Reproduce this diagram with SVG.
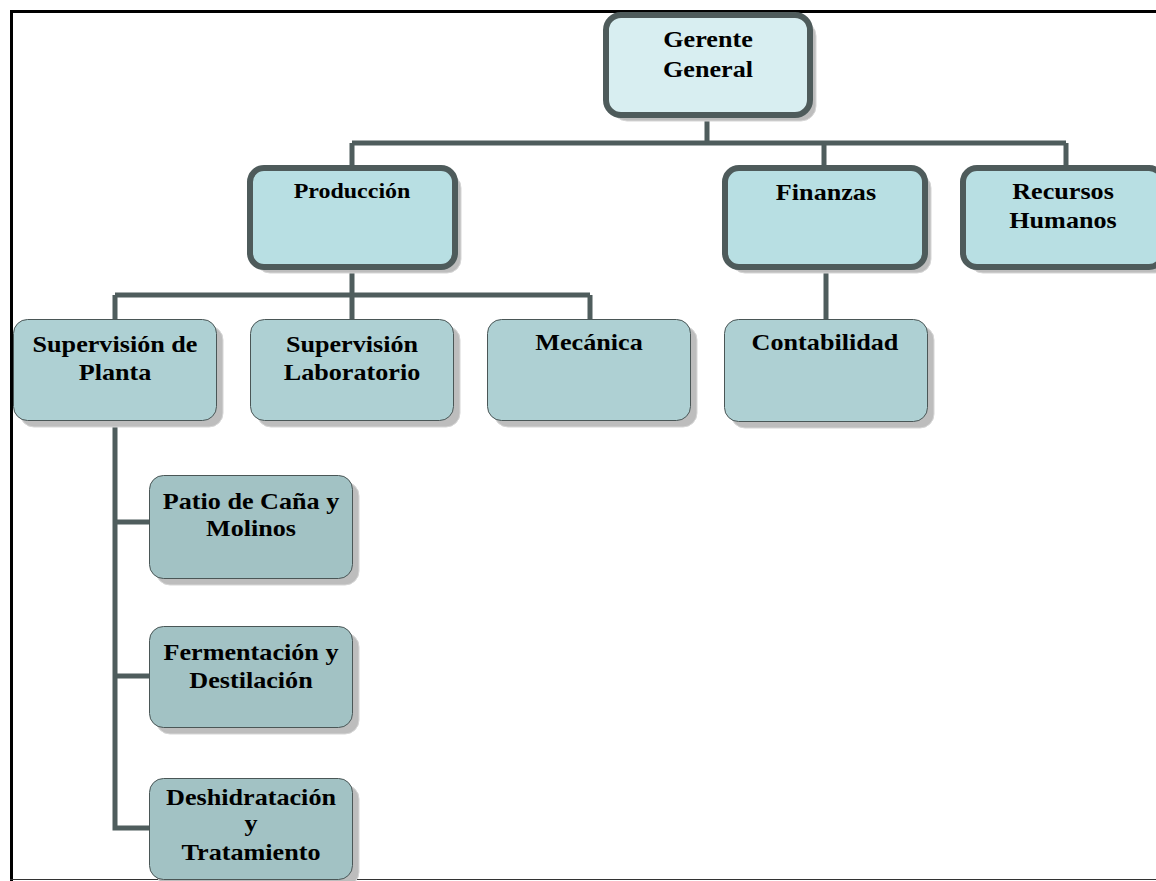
<svg xmlns="http://www.w3.org/2000/svg" width="1156" height="881" viewBox="0 0 1156 881">
<style>
.t{font-family:"Liberation Serif","Times New Roman",serif;font-weight:bold;font-size:24px;fill:#000;text-anchor:middle}
.sh{fill:#bdbdbd;stroke:#d6d6d6;stroke-width:1}
.l0{fill:#d8eef1;stroke:#4e5b5b;stroke-width:6}
.l1{fill:#b8dfe3;stroke:#4e5b5b;stroke-width:6}
.l2{fill:#aed0d3;stroke:#4a5656;stroke-width:1}
.l3{fill:#a2c2c4;stroke:#4a5656;stroke-width:1}
.c{fill:none;stroke:#4f5d5d;stroke-width:5}
</style>
<rect width="1156" height="881" fill="#fff"/>
<g id="frame">
<line x1="10" y1="11.5" x2="1156" y2="11.5" stroke="#000" stroke-width="3"/>
<line x1="11.5" y1="10" x2="11.5" y2="881" stroke="#000" stroke-width="3"/>
<line x1="10" y1="879.5" x2="1156" y2="879.5" stroke="#333" stroke-width="1"/>
</g>
<g id="connectors">
<path class="c" d="M707 118V143M352 143H1066M352 143V168M824 143V168M1066 143V168"/>
<path class="c" d="M352 270V295M115 295H590M115 295V319M352 295V319M590 295V319"/>
<path class="c" d="M826 270V319"/>
<path class="c" d="M115 420V828H149M115 522H149M115 676H149"/>
</g>
<g id="gerente">
<rect class="sh" x="612" y="21" width="204" height="100" rx="15"/>
<rect class="l0" x="606" y="15" width="204" height="100" rx="15"/>
<text class="t" transform="translate(708,47) scale(1.09,1)">Gerente</text>
<text class="t" transform="translate(708,77) scale(1.09,1)">General</text>
</g>
<g id="produccion">
<rect class="sh" x="256" y="174" width="205" height="99" rx="14"/>
<rect class="l1" x="250" y="168" width="205" height="99" rx="14"/>
<text class="t" style="font-size:22px" transform="translate(352,198) scale(1.09,1)">Producción</text>
</g>
<g id="finanzas">
<rect class="sh" x="731" y="174" width="200" height="99" rx="14"/>
<rect class="l1" x="725" y="168" width="200" height="99" rx="14"/>
<text class="t" transform="translate(826,200) scale(1.09,1)">Finanzas</text>
</g>
<g id="rrhh">
<rect class="sh" x="969" y="174" width="200" height="99" rx="14"/>
<rect class="l1" x="963" y="168" width="200" height="99" rx="14"/>
<text class="t" transform="translate(1063,199) scale(1.09,1)">Recursos</text>
<text class="t" transform="translate(1063,228) scale(1.09,1)">Humanos</text>
</g>
<g id="sup-planta">
<rect class="sh" x="20" y="326" width="203" height="101" rx="14"/>
<rect class="l2" x="13.5" y="319.5" width="203" height="101" rx="14"/>
<text class="t" transform="translate(115,352) scale(1.09,1)">Supervisión de</text>
<text class="t" transform="translate(115,380) scale(1.09,1)">Planta</text>
</g>
<g id="sup-lab">
<rect class="sh" x="257" y="326" width="203" height="101" rx="14"/>
<rect class="l2" x="250.5" y="319.5" width="203" height="101" rx="14"/>
<text class="t" transform="translate(352,352) scale(1.09,1)">Supervisión</text>
<text class="t" transform="translate(352,380) scale(1.09,1)">Laboratorio</text>
</g>
<g id="mecanica">
<rect class="sh" x="494" y="326" width="203" height="101" rx="14"/>
<rect class="l2" x="487.5" y="319.5" width="203" height="101" rx="14"/>
<text class="t" transform="translate(589,350) scale(1.09,1)">Mecánica</text>
</g>
<g id="contabilidad">
<rect class="sh" x="731" y="326" width="203" height="102" rx="14"/>
<rect class="l2" x="724.5" y="319.5" width="203" height="102" rx="14"/>
<text class="t" transform="translate(825,350) scale(1.09,1)">Contabilidad</text>
</g>
<g id="patio">
<rect class="sh" x="156" y="482" width="203" height="103" rx="14"/>
<rect class="l3" x="149.5" y="475.5" width="203" height="103" rx="14"/>
<text class="t" transform="translate(251,509) scale(1.09,1)">Patio de Caña y</text>
<text class="t" transform="translate(251,536) scale(1.09,1)">Molinos</text>
</g>
<g id="fermentacion">
<rect class="sh" x="156" y="633" width="203" height="101" rx="14"/>
<rect class="l3" x="149.5" y="626.5" width="203" height="101" rx="14"/>
<text class="t" transform="translate(251,660) scale(1.09,1)">Fermentación y</text>
<text class="t" transform="translate(251,688) scale(1.09,1)">Destilación</text>
</g>
<g id="deshidratacion">
<rect class="sh" x="156" y="785" width="203" height="101" rx="14"/>
<rect class="l3" x="149.5" y="778.5" width="203" height="101" rx="14"/>
<text class="t" transform="translate(251,805) scale(1.09,1)">Deshidratación</text>
<text class="t" transform="translate(251,831) scale(1.09,1)">y</text>
<text class="t" transform="translate(251,860) scale(1.09,1)">Tratamiento</text>
</g>
</svg>
